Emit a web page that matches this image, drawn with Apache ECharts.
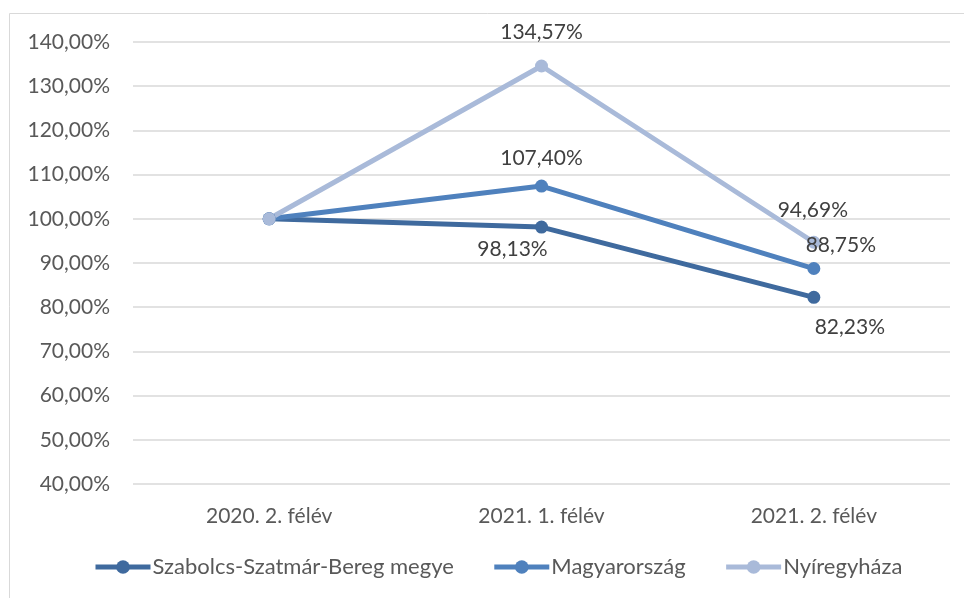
<!DOCTYPE html>
<html lang="hu">
<head>
    <meta charset="UTF-8">
    <title>Index</title>
    <script src="https://cdn.jsdelivr.net/npm/echarts@6/dist/echarts.min.js"></script>
    <style>
        body { margin: 0; background: #fff; }
        #chart { width: 964px; height: 598px; }
    </style>
</head>
<body>
    <div id="chart"></div>
    <script>
        var categories = ['2020. 2. félév', '2021. 1. félév', '2021. 2. félév'];
        var seriesNames = ['Szabolcs-Szatmár-Bereg megye', 'Magyarország', 'Nyíregyháza'];
        var szabolcs = [100, 98.13, 82.23];
        var magyar = [100, 107.40, 88.75];
        var nyiregyhaza = [100, 134.57, 94.69];
        var colors = ['#3F6A9E', '#4F81BD', '#A9BAD9'];

        // label offsets from point centre (first point has no label)
        var offsets = [
            [null, [-29, 22], [36, 30]],
            [null, [0, -28], [27, -23]],
            [null, [0, -34], [-1, -32]]
        ];
        var fs = 21;

        function fmt(v) {
            return v.toFixed(2).replace('.', ',') + '%';
        }

        function makeSeries(idx, values) {
            return {
                name: seriesNames[idx],
                type: 'line',
                data: values.map(function (v, i) {
                    var off = offsets[idx][i];
                    return {
                        value: v,
                        label: off ? { show: true, position: 'inside', offset: off } : { show: false }
                    };
                }),
                symbol: 'circle',
                symbolSize: 13,
                lineStyle: { width: 5, color: colors[idx] },
                itemStyle: { color: colors[idx] },
                label: {
                    formatter: function (p) { return fmt(p.value); },
                    color: '#404040',
                    fontSize: fs,
                    fontFamily: 'Lato'
                },
                animation: false
            };
        }

        var chart = echarts.init(document.getElementById('chart'));
        chart.setOption({
            color: colors,
            graphic: [{
                type: 'rect',
                shape: { x: 9.5, y: 13.5, width: 980, height: 620 },
                style: { fill: 'none', stroke: '#D9D9D9', lineWidth: 1 },
                silent: true
            }],
            grid: { left: 133, right: 14, top: 42, bottom: 114 },
            xAxis: {
                type: 'category',
                data: categories,
                axisLine: { show: false },
                axisTick: { show: false },
                axisLabel: { color: '#595959', fontSize: fs, fontFamily: 'Lato', margin: 22 }
            },
            yAxis: {
                type: 'value',
                min: 40,
                max: 140,
                interval: 10,
                axisLine: { show: false },
                axisTick: { show: false },
                splitLine: { lineStyle: { color: '#D9D9D9', width: 1.5 } },
                axisLabel: {
                    color: '#595959', fontSize: fs, fontFamily: 'Lato', margin: 23,
                    formatter: function (v) { return fmt(v); }
                }
            },
            legend: {
                bottom: 15,
                left: 88,
                itemWidth: 55,
                itemHeight: 17,
                itemGap: 38,
                lineStyle: { width: 5 },
                textStyle: { color: '#595959', fontSize: 22, fontFamily: 'Lato', padding: [0, 0, 0, -3] },
                data: seriesNames
            },
            series: [
                makeSeries(0, szabolcs),
                makeSeries(1, magyar),
                makeSeries(2, nyiregyhaza)
            ]
        });
    </script>
</body>
</html>
